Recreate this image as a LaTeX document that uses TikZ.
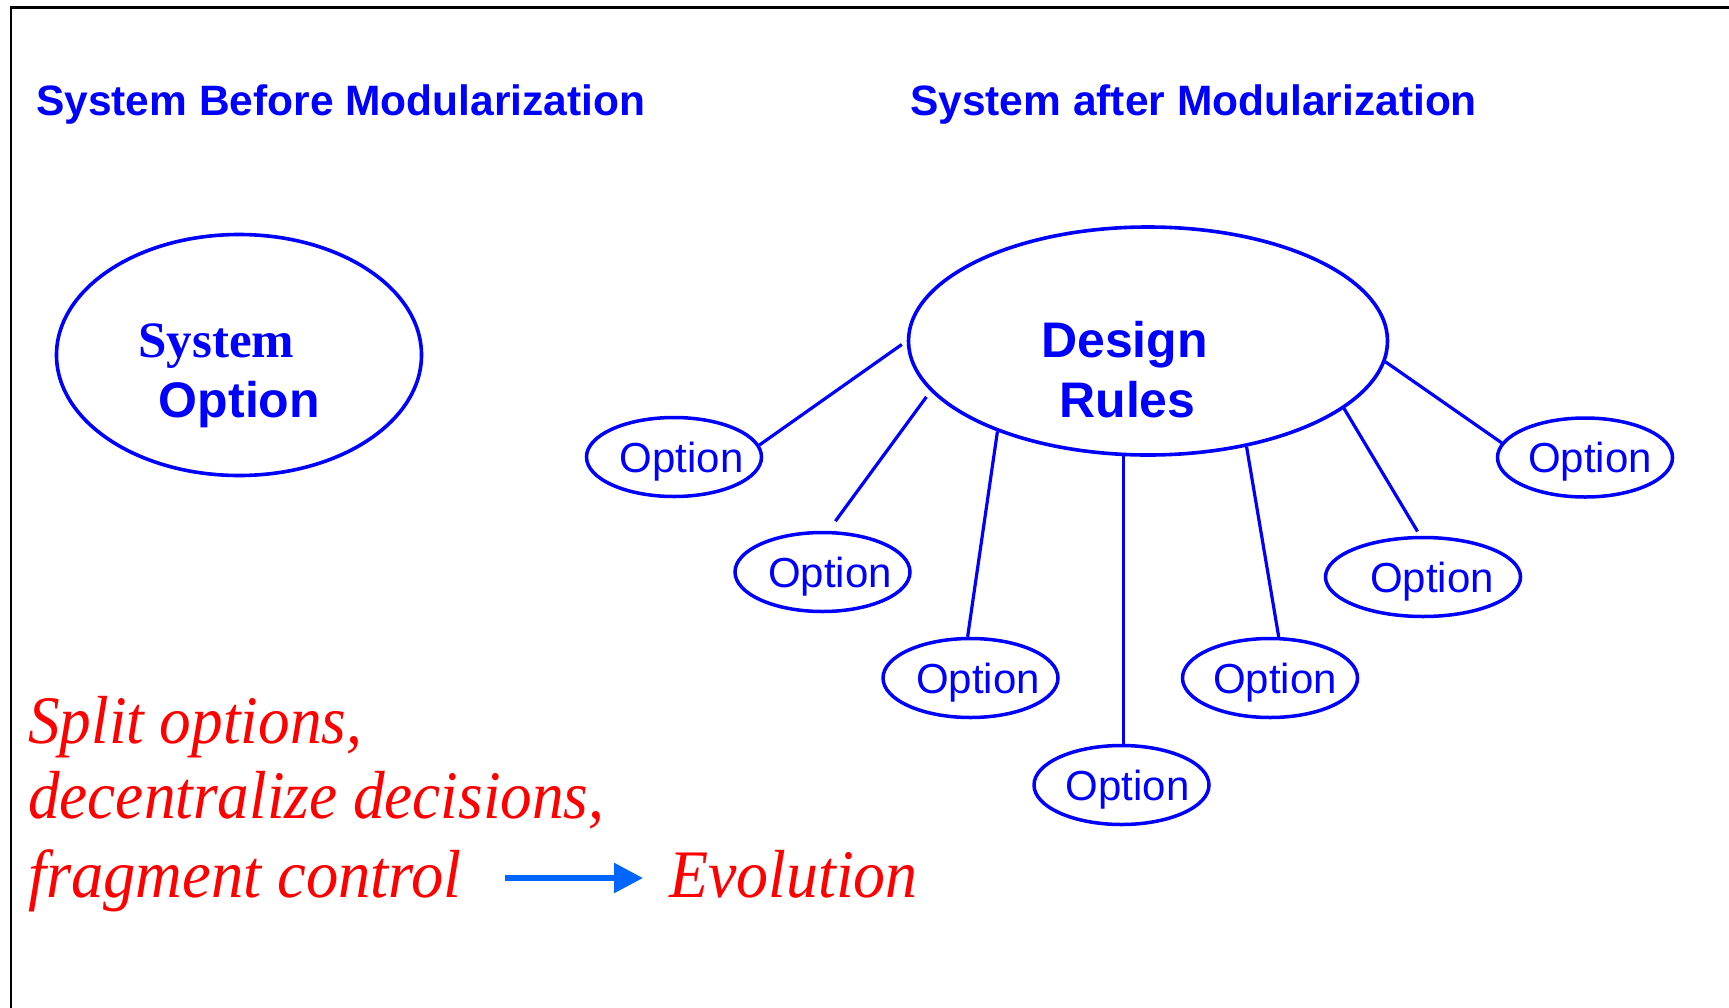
\documentclass[tikz,border=0pt]{standalone}
\usepackage{fontspec}
\setmainfont{Liberation Serif}
\setsansfont{Liberation Sans}
\usetikzlibrary{arrows.meta,shapes.geometric}
\definecolor{dsmblue}{RGB}{0,0,255}
\definecolor{dsmred}{RGB}{255,0,0}
\definecolor{arrowblue}{RGB}{0,102,255}

\begin{document}
\begin{tikzpicture}[x=1pt,y=-1pt,
  bigoval/.style={ellipse,draw=dsmblue,line width=3.6pt,inner sep=0pt},
  optoval/.style={ellipse,draw=dsmblue,line width=3.5pt,inner ysep=0pt,inner xsep=-14pt,
    minimum width=175pt,minimum height=79pt,text=dsmblue,text depth=0pt,
    font=\fontsize{42}{42}\selectfont\sffamily},
  link/.style={draw=dsmblue,line width=3.2pt},
  heading/.style={anchor=base west,inner sep=0pt,text=dsmblue,
    font=\fontsize{42.5}{42.5}\selectfont\sffamily\bfseries},
  bigtext/.style={anchor=base,inner sep=0pt,text=dsmblue,
    font=\fontsize{50}{50}\selectfont\sffamily\bfseries},
  slogan/.style={anchor=base west,inner sep=0pt,text=dsmred,
    font=\fontsize{68}{68}\selectfont\itshape},
]
\useasboundingbox (0,0) rectangle (1729,1007);

% frame edges
\draw[black,line width=2.5pt] (11,1012) -- (11,7.5) -- (1735,7.5);

% headings
\node[heading] (before) at (36,115) {System Before Modularization};
\node[heading] (after) at (910,115) {System after Modularization};

% monolithic system
\node[bigoval,minimum width=365pt,minimum height=241pt] (sys) at (239,355) {};
\node[anchor=base,inner sep=0pt,text=dsmblue,
  font=\fontsize{51}{51}\selectfont\rmfamily\bfseries] (systxt) at (216.5,357) {System};
\node[bigtext] (sysopt) at (239.5,417) {Option};

% modular system
\node[bigoval,minimum width=479pt,minimum height=228pt] (dr) at (1148,341) {};
\node[bigtext] (design) at (1124.5,357) {Design};
\node[bigtext] (rules) at (1127.5,417) {Rules};

\node[optoval] (o1) at (674,457) {\hspace*{15pt}Option};
\node[optoval] (o2) at (822.5,572) {\hspace*{15pt}Option};
\node[optoval] (o3) at (970.5,678) {\hspace*{15pt}Option};
\node[optoval] (o4) at (1121.5,785) {\hspace*{12pt}Option};
\node[optoval] (o5) at (1270,678) {\hspace*{10pt}Option};
\node[optoval,minimum width=195pt] (o6) at (1423,577) {\hspace*{18pt}Option};
\node[optoval] (o7) at (1585,457.5) {\hspace*{10pt}Option};

\draw[link,shorten <=6pt] (dr.180) -- (o1.8);
\draw[link,shorten <=7pt,shorten >=12pt] (dr.193) -- (o2.82);
\draw[link] (dr.211) -- (o3.94);
\draw[link] (dr.258) -- (dr.258 |- o4.north);
\draw[link] (dr.313) -- (o5.78);
\draw[link,shorten >=5pt] (dr.341) -- (o6.94);
\draw[link] (dr.355) -- (o7.170);

% consequence
\node[slogan] (l1) at (28,743) {\scalebox{0.93}[1]{Split options,}};
\node[slogan] (l2) at (28,818) {\scalebox{0.93}[1]{decentralize decisions,}};
\node[slogan] (l3) at (28,897) {\scalebox{0.95}[1]{fragment control}};
\node[slogan] (evo) at (669,897) {\scalebox{0.94}[1]{Evolution}};
\draw[arrowblue,line width=5.7pt,-{Triangle[length=29pt,width=29pt]}]
  ([shift={(477,-19)}]l3.base west) -- ([shift={(-26,-19)}]evo.base west);
\end{tikzpicture}
\end{document}
